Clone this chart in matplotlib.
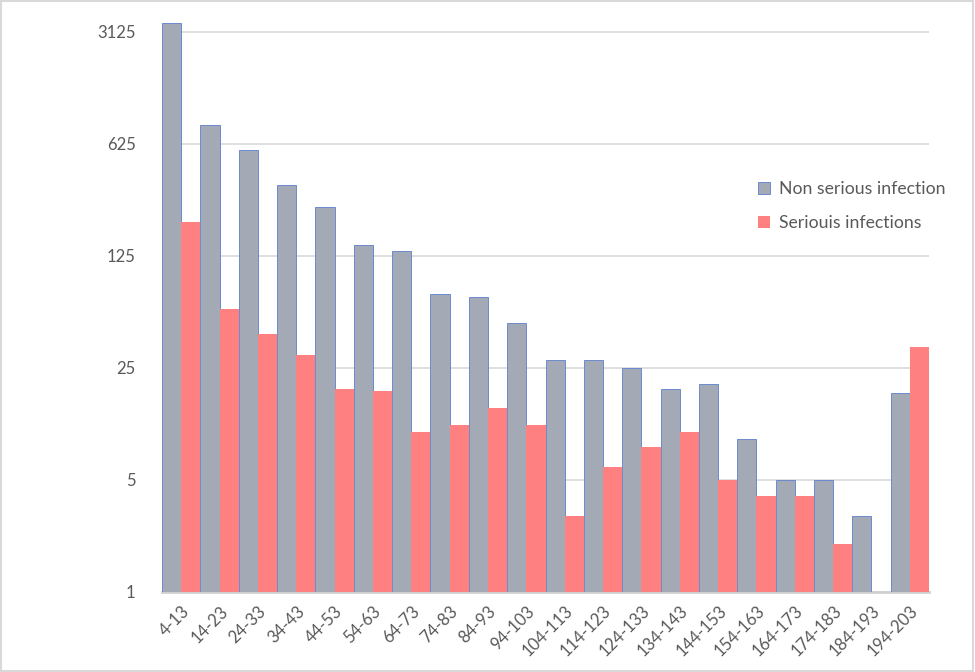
import matplotlib.pyplot as plt
import numpy as np
from matplotlib.patches import Rectangle
from matplotlib.ticker import FixedLocator, NullLocator

plt.rcParams['font.family'] = ['Lato', 'DejaVu Sans']

# Grupos de edad y numero de casos
groups = ['4-13', '14-23', '24-33', '34-43', '44-53', '54-63', '64-73', '74-83',
          '84-93', '94-103', '104-113', '114-123', '124-133', '134-143',
          '144-153', '154-163', '164-173', '174-183', '184-193', '194-203']
non_serious = [3550, 820, 575, 347, 253, 146, 134, 72, 69, 48,
               28, 28, 25, 18.5, 20, 9, 5, 5, 3, 17.5]
serious = [204, 58, 41, 30, 18.6, 18, 10, 11, 14, 11,
           3, 6, 8, 10, 5, 4, 4, 2, 1, 34]
yticks = [1, 5, 25, 125, 625, 3125]

fig = plt.figure(figsize=(9.75, 6.72), dpi=100)
ax = fig.add_axes([162/975, 80/672, 767/975, 572/672])

x = np.arange(len(groups))
ax.bar(x - 0.25, non_serious, width=0.5, color='#a3aab5',
       edgecolor='#5b7fcf', linewidth=0.6, label='Non serious infection', zorder=3)
ax.bar(x + 0.25, serious, width=0.5, color='#ff8080', linewidth=0,
       label='Seriouis infections', zorder=3)

ax.set_yscale('log')
ax.set_ylim(1, 3713)
ax.set_xlim(-0.5, len(groups) - 0.5)
ax.yaxis.set_major_locator(FixedLocator(yticks))
ax.yaxis.set_minor_locator(NullLocator())
ax.set_yticklabels([str(t) for t in yticks])
ax.grid(axis='y', color='#d9d9d9', linewidth=1.2, zorder=0)

ax.set_xticks(x)
ax.set_xticklabels(groups, rotation=45, ha='right', rotation_mode='anchor')
ax.tick_params(axis='both', length=0, labelsize=12, colors='#595959')
ax.tick_params(axis='x', pad=8)
ax.tick_params(axis='y', pad=19)

for s in ['top', 'right', 'left']:
    ax.spines[s].set_visible(False)
ax.spines['bottom'].set_color('#d0d0d0')
ax.spines['bottom'].set_linewidth(2)

leg = ax.legend(loc='upper left', bbox_to_anchor=(742/975, 1 - 165/672),
                bbox_transform=fig.transFigure, frameon=False, fontsize=12.7,
                handlelength=0.7, handleheight=0.7, labelspacing=1.05,
                handletextpad=0.5, labelcolor='#595959')

# Borde exterior
fig.patches.append(Rectangle((0.001, 0.002), 0.997, 0.996, transform=fig.transFigure,
                             fill=False, edgecolor='#d9d9d9', linewidth=1.5))

fig.savefig('out.png', dpi=100)
